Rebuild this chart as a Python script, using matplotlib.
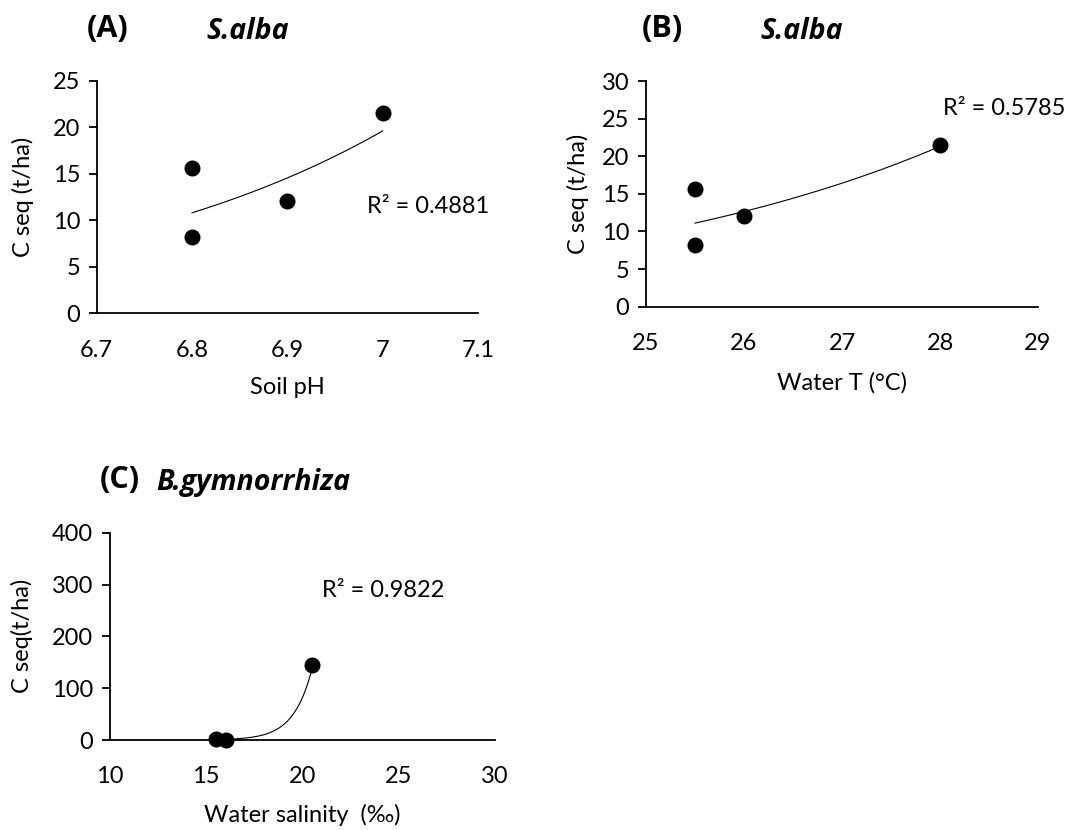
import numpy as np
import matplotlib
matplotlib.use("Agg")
import matplotlib.pyplot as plt

plt.rcParams['font.family'] = ['Lato', 'DejaVu Sans']

# data
c_seq_alba = [15.6, 8.2, 12.1, 21.5]
soil_ph = [6.8, 6.8, 6.9, 7.0]
water_t = [25.5, 25.5, 26.0, 28.0]

salinity = [15.5, 16.0, 20.5]
c_seq_gym = [1.2, 0.8, 145.0]

r2_labels = ["R² = 0.4881", "R² = 0.5785", "R² = 0.9822"]

W, H = 1089, 830
FS = 17
fig = plt.figure(figsize=(W / 100, H / 100), dpi=100)


def px(x, y):
    return x / W, 1 - y / H


def axes_px(left, top, right, bottom):
    return fig.add_axes([left / W, 1 - bottom / H, (right - left) / W, (bottom - top) / H])


def style(ax):
    for s in ['top', 'right']:
        ax.spines[s].set_visible(False)
    for s in ['left', 'bottom']:
        ax.spines[s].set_linewidth(1.3)
    ax.tick_params(axis='y', direction='out', length=6, width=1.3, pad=6, labelsize=FS)
    ax.tick_params(axis='x', length=0, pad=19, labelsize=FS)


def exp_trend(ax, x, y):
    # exponential trendline, same as Excel's
    x = np.asarray(x)
    b, a = np.polyfit(x, np.log(y), 1)
    xs = np.linspace(x.min(), x.max(), 100)
    ax.plot(xs, np.exp(a + b * xs), color='black', lw=0.8, zorder=2)


def panel(ax, x, y, xlim, xticks, ylim, yticks, xlabel, ylabel):
    style(ax)
    exp_trend(ax, x, y)
    ax.plot(x, y, 'o', color='black', ms=10.5, zorder=3, clip_on=False)
    ax.set_xlim(*xlim)
    ax.set_ylim(*ylim)
    ax.set_xticks(xticks)
    ax.set_yticks(yticks)
    ax.set_xlabel(xlabel, fontsize=FS, va='center')
    ax.set_ylabel(ylabel, fontsize=FS, va='center')


def title(x, y, tag, species):
    fig.text(*px(x[0], y), tag, fontsize=22, fontweight='bold', family='Open Sans',
             ha='center', va='baseline')
    fig.text(*px(x[1], y + 2), species, fontsize=20.5, fontweight='bold', style='italic',
             family='Open Sans', ha='center', va='baseline')


# (A) soil pH
axA = axes_px(96.7, 80.7, 478, 313.3)
panel(axA, soil_ph, c_seq_alba, (6.7, 7.1), [6.7, 6.8, 6.9, 7.0, 7.1],
      (0, 25), [0, 5, 10, 15, 20, 25], "Soil pH", "C seq (t/ha)")
axA.set_xticklabels(["6.7", "6.8", "6.9", "7", "7.1"])
axA.xaxis.set_label_coords(0.5, (313.3 - 387) / 232.6)
axA.yaxis.set_label_coords((23 - 96.7) / 381.3, 0.5)

# (B) water temperature
axB = axes_px(646, 81, 1038, 306.7)
panel(axB, water_t, c_seq_alba, (25, 29), [25, 26, 27, 28, 29],
      (0, 30), [0, 5, 10, 15, 20, 25, 30], "Water T (°C)", "C seq (t/ha)")
axB.xaxis.set_label_coords(0.5, (306.7 - 383) / 225.7)
axB.yaxis.set_label_coords((578 - 646) / 392, 0.5)

# (C) water salinity
axC = axes_px(110, 532.7, 495, 740)
panel(axC, salinity, c_seq_gym, (10, 30), [10, 15, 20, 25, 30],
      (0, 400), [0, 100, 200, 300, 400], "Water salinity  (‰)", "C seq(t/ha)")
axC.xaxis.set_label_coords(0.5, (740 - 815) / 207.3)
axC.yaxis.set_label_coords((22 - 110) / 385, 0.5)

# panel titles
title((107.5, 247.5), 37, "(A)", "S.alba")
title((662.7, 802), 37, "(B)", "S.alba")
title((120, 253), 488, "(C)", "B.gymnorrhiza")

# R² annotations
fig.text(*px(367.3, 213.3), r2_labels[0], fontsize=FS, ha='left', va='baseline')
fig.text(*px(943.3, 115), r2_labels[1], fontsize=FS, ha='left', va='baseline')
fig.text(*px(321.7, 596.7), r2_labels[2], fontsize=FS, ha='left', va='baseline')

fig.savefig("out.png", dpi=100)
